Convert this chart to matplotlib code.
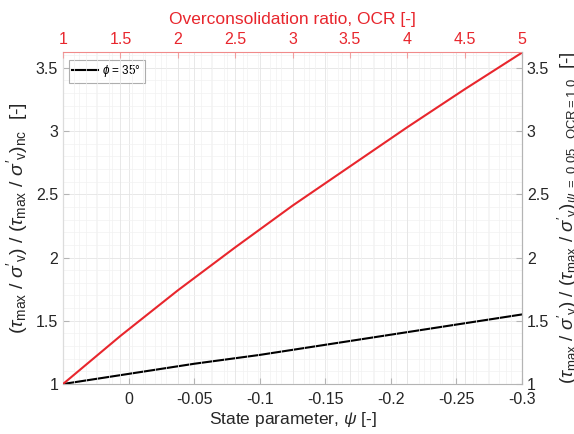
import numpy as np
import matplotlib
matplotlib.use('Agg')
import matplotlib.pyplot as plt
from matplotlib.ticker import MultipleLocator, AutoMinorLocator

plt.rcParams['font.family'] = ['Liberation Sans', 'DejaVu Sans']
plt.rcParams['mathtext.fontset'] = 'custom'
plt.rcParams['mathtext.rm'] = 'Liberation Sans'
plt.rcParams['mathtext.it'] = 'Liberation Sans:italic'
plt.rcParams['axes.unicode_minus'] = False

# state parameter curve (bottom axis)
psi = [0.05, 0.0, -0.05, -0.1, -0.15, -0.2, -0.25, -0.3]
ratio_psi = [1.0, 1.08, 1.16, 1.23, 1.31, 1.39, 1.47, 1.55]

# overconsolidation curve (top axis)
ocr = [1, 1.5, 2, 2.5, 3, 3.5, 4, 4.5, 5]
ratio_ocr = [1.0, 1.38, 1.74, 2.08, 2.41, 2.72, 3.03, 3.33, 3.62]

psi_ticks = [0, -0.05, -0.1, -0.15, -0.2, -0.25, -0.3]
psi_labels = ['0', '-0.05', '-0.1', '-0.15', '-0.2', '-0.25', '-0.3']
ocr_ticks = [1, 1.5, 2, 2.5, 3, 3.5, 4, 4.5, 5]
ocr_labels = ['1', '1.5', '2', '2.5', '3', '3.5', '4', '4.5', '5']
y_ticks = [1, 1.5, 2, 2.5, 3, 3.5]
y_labels = ['1', '1.5', '2', '2.5', '3', '3.5']

red = '#e8262d'
gray = '#b4b4b4'
txt = '#262626'

fig = plt.figure(figsize=(5.74, 4.34), dpi=100)
ax = fig.add_axes([0.1098, 0.1152, 0.7996, 0.765])
ax.set_facecolor('white')

ax.plot(psi, ratio_psi, color='black', lw=1.5, label=r'$\phi$ = 35°')
ax.set_xlim(0.05, -0.3)
ax.set_ylim(1, 3.625)
ax.set_xticks(psi_ticks)
ax.set_xticklabels(psi_labels)
ax.set_yticks(y_ticks)
ax.set_yticklabels(y_labels)
ax.xaxis.set_minor_locator(AutoMinorLocator(4))
ax.yaxis.set_minor_locator(AutoMinorLocator(5))
ax.grid(True, which='major', color='#e4e4e4', lw=0.6)
ax.grid(True, which='minor', color='#f1f1f1', lw=0.5)
ax.set_axisbelow(True)
ax.tick_params(which='both', direction='in', colors=txt, labelsize=11.5, length=4)
ax.tick_params(which='minor', length=0)
ax.tick_params(axis='both', which='major', color=gray)
ax.tick_params(axis='x', pad=6)
ax.set_xlabel(r'State parameter, $\psi$ [-]', fontsize=12.5, color=txt, labelpad=2)
ax.set_ylabel(r"$(\tau_{\mathrm{max}}\ /\ \sigma'_{\mathrm{v}})\ /\ (\tau_{\mathrm{max}}\ /\ \sigma'_{\mathrm{v}})_{\mathrm{nc}}$  [-]",
              fontsize=14, color=txt, labelpad=4)
for s in ['left', 'bottom', 'right']:
    ax.spines[s].set_color(gray)
ax.spines['top'].set_visible(False)

leg = ax.legend(loc='upper left', fontsize=8.5, frameon=True, fancybox=False,
                handlelength=2.2, borderpad=0.3, handletextpad=0.3,
                bbox_to_anchor=(0.0, 0.995))
leg.get_frame().set_edgecolor('#9a9a9a')
leg.get_frame().set_linewidth(0.8)

# top axis for OCR
ax2 = ax.twiny()
ax2.plot(ocr, ratio_ocr, color=red, lw=1.5)
ax2.set_xlim(1, 5)
ax2.set_ylim(1, 3.625)
ax2.set_xticks(ocr_ticks)
ax2.set_xticklabels(ocr_labels)
ax2.xaxis.set_minor_locator(AutoMinorLocator(5))
ax2.grid(True, which='major', axis='x', color='#e4e4e4', lw=0.6)
ax2.grid(True, which='minor', axis='x', color='#f1f1f1', lw=0.5)
ax2.tick_params(axis='x', which='major', direction='in', colors=red, labelsize=11.5, length=4)
ax2.tick_params(axis='x', which='major', color='#f0a0a0')
ax2.tick_params(axis='x', which='minor', length=0)
ax2.set_xlabel('Overconsolidation ratio, OCR [-]', fontsize=12.5, color=red, labelpad=6)
ax2.spines['top'].set_color('#f08a8a')
for s in ['left', 'bottom', 'right']:
    ax2.spines[s].set_visible(False)

# right axis
ax3 = ax.twinx()
ax3.set_ylim(1, 3.625)
ax3.set_yticks(y_ticks)
ax3.set_yticklabels(y_labels)
ax3.tick_params(axis='y', direction='in', colors=txt, labelsize=11.5, length=4)
ax3.tick_params(axis='y', color=gray)
ax3.set_ylabel(r"$(\tau_{\mathrm{max}}\ /\ \sigma'_{\mathrm{v}})\ /\ (\tau_{\mathrm{max}}\ /\ \sigma'_{\mathrm{v}})_{\psi\ =\ 0.05,\ \mathrm{OCR=1.0}}$  [-]",
               fontsize=13.5, color=txt, rotation=90, labelpad=5)
for s in ['left', 'bottom', 'top']:
    ax3.spines[s].set_visible(False)
ax3.spines['right'].set_color(gray)

fig.savefig('out.png', dpi=100)
